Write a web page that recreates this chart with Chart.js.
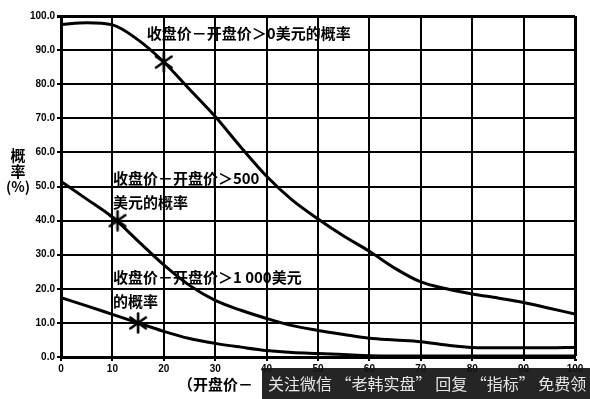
<!DOCTYPE html>
<html>
<head>
<meta charset="utf-8">
<script src="https://cdn.jsdelivr.net/npm/chart.js@4.4.1/dist/chart.umd.min.js"></script>
<style>
    html, body { margin: 0; padding: 0; background: #fff; }
    #wrap { width: 590px; height: 399px; position: relative; }
</style>
</head>
<body>
<div id="wrap"><canvas id="chart"></canvas></div>
<script>
// price gap (US$) on the x axis
const xValues = [0, 5, 10, 15, 20, 25, 30, 35, 40, 45, 50, 55, 60, 65, 70, 75, 80, 85, 90, 95, 100];
// probability (%) that close - open exceeds 0 / 500 / 1000
const probAbove0 = [97.5, 98, 97.4, 93, 86.5, 78.5, 70.5, 61.5, 53, 46, 40.5, 35.5, 31, 26, 22, 20, 18.5, 17.3, 16, 14.3, 12.6];
const probAbove500 = [51.5, 46.3, 41, 34, 27, 21, 16.6, 13.7, 11.3, 9.2, 7.8, 6.6, 5.5, 5, 4.5, 3.5, 2.8, 2.7, 2.7, 2.7, 2.8];
const probAbove1000 = [17.4, 15, 12.5, 10, 7.5, 5.4, 4, 2.9, 1.9, 1.3, 1, 0.7, 0.4, 0.3, 0.3, 0.3, 0.3, 0.3, 0.3, 0.3, 0.3];
// star markers on each curve
const markerX = [20, 11, 15];
const markerY = [86.5, 40, 10];

const curveLabels = [
    { lines: ['收盘价－开盘价＞0美元的概率'], x: 16.7, y: 95 },
    { lines: ['收盘价－开盘价＞500', '美元的概率'], x: 10.1, y: 52.5 },
    { lines: ['收盘价－开盘价＞1 000美元', '的概率'], x: 10.1, y: 23.5 }
];
const yTitle = ['概', '率', '(%)'];
const xTitle = '（开盘价－';
const watermark = '关注微信 “老韩实盘” 回复 “指标” 免费领';

const cjk = '"Noto Sans CJK SC", "Noto Sans", sans-serif';

function toPoints(ys) {
    return xValues.map((x, i) => ({ x: x, y: ys[i] }));
}

// six-armed asterisk used as point style
function makeStar() {
    const c = document.createElement('canvas');
    c.width = 22; c.height = 22;
    const g = c.getContext('2d');
    g.strokeStyle = '#000';
    g.lineWidth = 2.6;
    g.lineCap = 'round';
    [90, 35, 145].forEach(a => {
        const r = a * Math.PI / 180;
        g.beginPath();
        g.moveTo(11 - Math.cos(r) * 9.5, 11 - Math.sin(r) * 9.5);
        g.lineTo(11 + Math.cos(r) * 9.5, 11 + Math.sin(r) * 9.5);
        g.stroke();
    });
    return c;
}

const textPlugin = {
    id: 'texts',
    afterDatasetsDraw(chart) {
        const { ctx, scales } = chart;
        ctx.save();
        ctx.fillStyle = '#000';
        ctx.font = 'bold 15px ' + cjk;
        ctx.textBaseline = 'middle';
        ctx.textAlign = 'left';
        curveLabels.forEach(l => {
            const px = scales.x.getPixelForValue(l.x);
            const py = scales.y.getPixelForValue(l.y);
            l.lines.forEach((t, i) => ctx.fillText(t, px, py + i * 24));
        });
        ctx.restore();
    },
    afterDraw(chart) {
        const { ctx } = chart;
        ctx.save();
        ctx.fillStyle = '#000';
        ctx.textBaseline = 'middle';
        ctx.textAlign = 'center';
        ctx.font = 'bold 15px ' + cjk;
        ctx.fillText(yTitle[0], 18, 155);
        ctx.fillText(yTitle[1], 18, 171);
        ctx.font = 'bold 14px ' + cjk;
        ctx.fillText(yTitle[2], 18, 187);

        ctx.textAlign = 'left';
        ctx.font = 'bold 15px ' + cjk;
        ctx.fillText(xTitle, 178, 384);

        ctx.fillStyle = 'rgba(20,20,20,0.93)';
        ctx.fillRect(262, 368, 328, 31);
        ctx.fillStyle = '#e6e6e6';
        ctx.font = '16px ' + cjk;
        ctx.fillText(watermark, 268, 384);
        ctx.restore();
    }
};

const star = makeStar();

new Chart(document.getElementById('chart'), {
    type: 'line',
    data: {
        datasets: [
            { data: toPoints(probAbove0) },
            { data: toPoints(probAbove500) },
            { data: toPoints(probAbove1000) },
            {
                type: 'scatter',
                data: markerX.map((x, i) => ({ x: x, y: markerY[i] })),
                pointStyle: star,
                pointRadius: 11,
                showLine: false
            }
        ].map(ds => Object.assign({
            borderColor: '#000',
            borderWidth: 3,
            pointRadius: 0,
            tension: 0.4,
            cubicInterpolationMode: 'monotone',
            fill: false
        }, ds))
    },
    options: {
        responsive: true,
        maintainAspectRatio: false,
        animation: false,
        layout: { padding: { top: 16, right: 15, left: 0, bottom: 0 } },
        plugins: { legend: { display: false }, tooltip: { enabled: false } },
        scales: {
            x: {
                type: 'linear',
                min: 0,
                max: 100,
                afterFit: s => { s.height = 42; },
                ticks: {
                    stepSize: 10,
                    color: '#000',
                    padding: 2,
                    maxRotation: 0,
                    font: { family: 'Liberation Sans', size: 10, weight: 'bold' }
                },
                grid: {
                    color: '#000',
                    lineWidth: c => (c.tick && c.tick.value === 100 ? 3 : 2),
                    tickLength: 4
                },
                border: { display: true, color: '#000', width: 3 }
            },
            y: {
                min: 0,
                max: 100,
                afterFit: s => { s.width = 61; },
                ticks: {
                    stepSize: 10,
                    color: '#000',
                    padding: 2,
                    callback: v => v.toFixed(1),
                    font: { family: 'Liberation Sans', size: 10, weight: 'bold' }
                },
                grid: {
                    color: '#000',
                    lineWidth: c => (c.tick && c.tick.value === 100 ? 3 : 2),
                    tickLength: 4
                },
                border: { display: true, color: '#000', width: 3 }
            }
        }
    },
    plugins: [textPlugin]
});
</script>
</body>
</html>
